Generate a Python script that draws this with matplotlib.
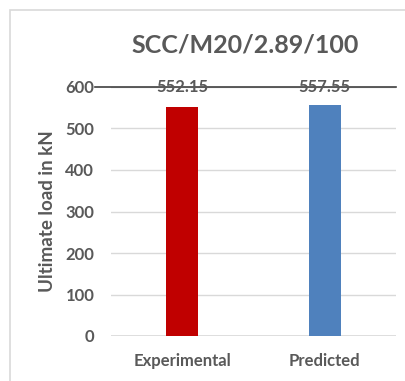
import matplotlib.pyplot as plt
from matplotlib.patches import Rectangle
from matplotlib.lines import Line2D

categories = ["Experimental", "Predicted"]
loads = [552.15, 557.55]
bar_colors = ["#C00000", "#4F81BD"]
yticks = [0, 100, 200, 300, 400, 500, 600]

grey = "#595959"
plt.rcParams["font.family"] = ["Lato", "DejaVu Sans"]
plt.rcParams["font.weight"] = "bold"

fig = plt.figure(figsize=(4.06, 3.81), dpi=100)
ax = fig.add_axes([111 / 406, 1 - 336 / 381, 285 / 406, 249 / 381])

# chart border (right/bottom edges cut off in the reference)
fig.patches.append(Rectangle((10 / 406, -0.1), 1.2, 1.1 - 10 / 381,
                             transform=fig.transFigure, fill=False,
                             edgecolor="#d9d9d9", linewidth=1.2))

x = range(len(categories))
ax.bar(x, loads, width=0.225, color=bar_colors, zorder=3)
for xi, v in zip(x, loads):
    ax.text(xi, 600, f"{v:.2f}", ha="center", va="center",
            fontsize=12, fontweight="bold", color=grey, zorder=4)

ax.set_xlim(-0.5, 1.5)
ax.set_ylim(0, 600)
ax.set_yticks(yticks)
ax.set_xticks(list(x))
ax.set_xticklabels(categories)
ax.tick_params(length=0, labelsize=12, colors=grey)
ax.tick_params(axis="x", pad=12)
ax.tick_params(axis="y", pad=12)
for lab in ax.get_xticklabels() + ax.get_yticklabels():
    lab.set_fontweight("bold")

ax.grid(axis="y", color="#d9d9d9", linewidth=1, zorder=0)
for s in ax.spines.values():
    s.set_visible(False)
ax.axhline(0, color="#d9d9d9", linewidth=1.2, zorder=2)

# dark line at the top value, extending left to the tick label
ax.add_line(Line2D([-16 / 285, 1], [1, 1], transform=ax.transAxes,
                   color="#404040", linewidth=1.2, clip_on=False, zorder=2))

ax.set_ylabel("Ultimate load in kN", fontsize=13.5, fontweight="bold",
              color=grey, labelpad=7)
fig.text(245 / 406, 1 - 45 / 381, "SCC/M20/2.89/100", ha="center",
         va="center", fontsize=18, fontweight="bold", color=grey)

fig.savefig("out.png", dpi=100)
